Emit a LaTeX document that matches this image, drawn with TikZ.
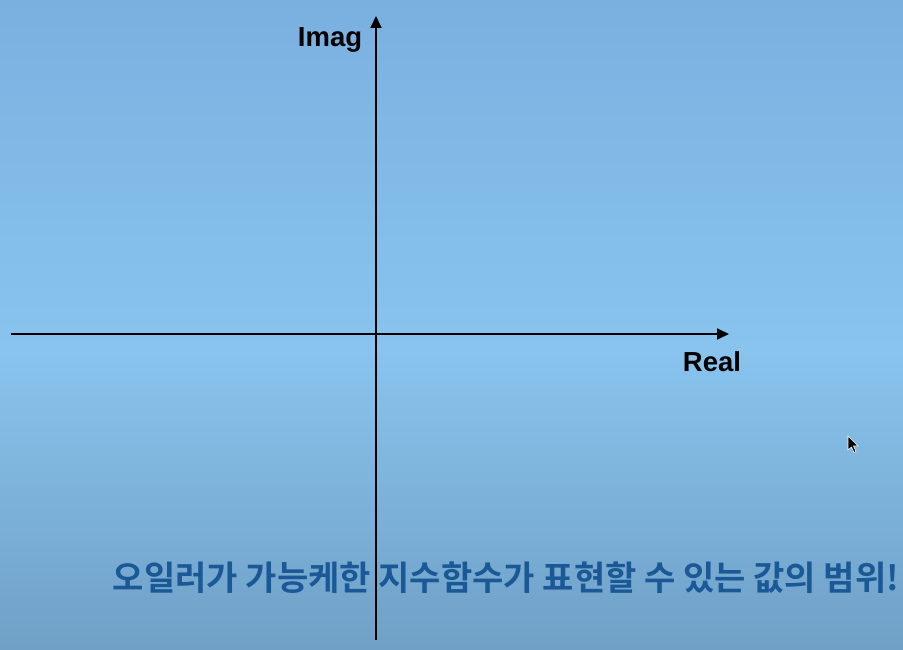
\documentclass[tikz,border=0pt]{standalone}
\usepackage{fontspec}
\setmainfont{Liberation Sans}
\newfontfamily\kor{Noto Sans CJK KR}[BoldFont={* Bold}]
\usetikzlibrary{arrows.meta}
\definecolor{bgtop}{RGB}{122,176,224}
\definecolor{bgmid}{RGB}{136,196,238}
\definecolor{bgbot}{RGB}{112,160,198}
\definecolor{kortext}{RGB}{26,88,150}
\tikzset{
  axis/.style={line width=1.8pt, black, -{Triangle[length=12pt,width=11pt]}},
  axlabel/.style={font=\fontsize{27.5}{30}\selectfont\bfseries, text=black, inner sep=0pt},
  caption/.style={font=\kor\fontsize{34}{38}\selectfont\bfseries, text=kortext, inner sep=0pt},
}
\begin{document}
\begin{tikzpicture}[x=1pt,y=-1pt]
\useasboundingbox (0,0) rectangle (903,650);
\shade[top color=bgtop, bottom color=bgmid] (0,0) rectangle (903,350);
\shade[top color=bgmid, bottom color=bgbot] (0,350) rectangle (903,650);
\coordinate (xl) at (11,334);
\coordinate (xr) at (729,334);
\coordinate (yb) at (376,640);
\coordinate (yt) at (376,16);
\draw[axis] (xl) -- (xr);
\draw[axis] (yb) -- (yt);
\node[axlabel] (imag) at (330,40) {Imag};
\node[axlabel] (real) at (712,362) {Real};
\node[caption] (cap) at (506,578) {오일러가 가능케한 지수함수가 표현할 수 있는 값의 범위!};
\fill[black, draw=white, line width=0.6pt] (848,436) -- (848,450) -- (851.5,447) -- (854,452.5) -- (856,451.5) -- (853.5,446) -- (858,446) -- cycle;
\end{tikzpicture}
\end{document}
